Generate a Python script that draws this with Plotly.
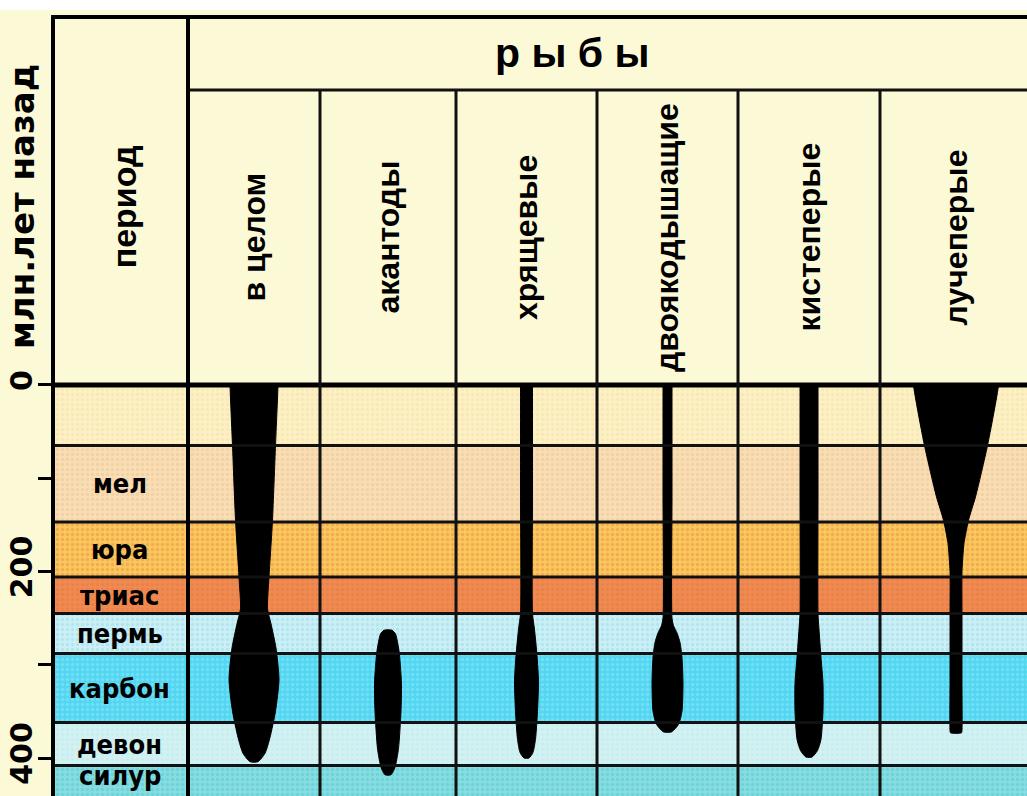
import plotly.graph_objects as go

# ---- geological periods (million years ago) ----
PERIOD_NAMES = ["", "мел", "юра", "триас", "пермь", "карбон", "девон", "силур"]
PERIOD_START = [0, 65, 147, 206, 245, 288, 362, 408]
PERIOD_END = [65, 147, 206, 245, 288, 362, 408, 443]
PERIOD_COLORS = ["#FDF0C4", "#F9DDB4", "#FAC65E", "#F08A50",
                 "#CBEFF5", "#52D6F1", "#D2F1F2", "#86DCE0"]
PERIOD_DOTS = ["#F2E2A8", "#EBC594", "#E8913E", "#E27A44",
               "#97DDEC", "#93E7F7", "#C0E9EC", "#52CAD2"]

# ---- fish groups: age (Ma) and relative diversity (width of the spindle) ----
GROUPS = ["в целом", "акантоды", "хрящевые", "двоякодышащие", "кистеперые", "лучеперые"]

AGES_TOTAL = [0, 65, 145, 206, 240, 256, 282, 316, 350, 378, 395, 404]
WIDTH_TOTAL = [48, 43, 37, 30, 27, 34, 44, 50, 43, 32, 22, 8]

AGES_ACANTH = [263, 267, 285, 320, 350, 390, 410, 418]
WIDTH_ACANTH = [8, 15, 22, 27, 26, 21, 14, 6]

AGES_CHOND = [0, 120, 245, 262, 290, 318, 350, 380, 394, 400]
WIDTH_CHOND = [12, 12, 12, 16, 21, 24, 22, 18, 13, 5]

AGES_DIPNOI = [0, 120, 250, 258, 266, 276, 292, 320, 350, 364, 372]
WIDTH_DIPNOI = [9, 9, 9, 12, 19, 25, 29, 31, 29, 22, 8]

AGES_CROSS = [0, 120, 245, 262, 292, 320, 350, 380, 392, 399]
WIDTH_CROSS = [18, 18, 18, 20, 24, 28, 28, 24, 17, 6]

AGES_ACTINO = [0, 65, 120, 145, 170, 200, 250, 320, 370, 373]
WIDTH_ACTINO = [85, 63, 39, 25, 16, 12, 12, 12, 12, 11]

SERIES = [
    (AGES_TOTAL, WIDTH_TOTAL),
    (AGES_ACANTH, WIDTH_ACANTH),
    (AGES_CHOND, WIDTH_CHOND),
    (AGES_DIPNOI, WIDTH_DIPNOI),
    (AGES_CROSS, WIDTH_CROSS),
    (AGES_ACTINO, WIDTH_ACTINO),
]

Y_TICKS = [0, 100, 200, 300, 400]
Y_TICK_TEXT = ["0", "", "200", "", "400"]

# ---- table geometry (horizontal units of the x axis) ----
X_LEFT, X_RIGHT = 55, 1027
PERIOD_COL_RIGHT = 188
COLUMN_EDGES = [188, 320, 456, 597, 738, 880, 1032]
Y_TOP, Y_BOTTOM = -394.6, 440.75       # axis range, header lives above 0
HEADER_SPLIT = -316.4                  # line under the "р ы б ы" row

CREAM = "#FCF9D7"
FONT = "Liberation Sans, Arial, sans-serif"
WIDE = "DejaVu Sans, Verdana, sans-serif"
NARROW = "DejaVu Sans Condensed, sans-serif"

fig = go.Figure()

# coloured period bands with a halftone texture
for name, start, end, col, dot in zip(PERIOD_NAMES, PERIOD_START, PERIOD_END,
                                      PERIOD_COLORS, PERIOD_DOTS):
    fig.add_trace(go.Bar(
        x=[(X_LEFT + 1100) / 2], y=[end - start], base=[start], width=[1100 - X_LEFT],
        marker=dict(color=col, line=dict(width=0),
                    pattern=dict(shape=".", fgcolor=dot, size=5, solidity=0.35,
                                 fillmode="overlay")),
        hoverinfo="skip", showlegend=False))

# spindle diagrams
for k, (ages, widths) in enumerate(SERIES):
    ages, widths = list(ages), list(widths)
    if ages[0] == 0:
        # carry the top edge up under the header so it ends squarely at 0
        ages = [-15] + ages
        widths = [widths[0]] + widths
    c = (COLUMN_EDGES[k] + COLUMN_EDGES[k + 1]) / 2
    xs = [c + w / 2 for w in widths] + [c - w / 2 for w in reversed(widths)]
    ys = ages + ages[::-1]
    xs.append(xs[0])
    ys.append(ys[0])
    fig.add_trace(go.Scatter(
        x=xs, y=ys, mode="lines", fill="toself", fillcolor="black",
        line=dict(color="black", width=1, shape="spline", smoothing=0.6),
        hoverinfo="skip", showlegend=False))

shapes = []
# header background (covers anything running above 0)
shapes.append(dict(type="rect", xref="x", yref="y", x0=X_LEFT - 5, x1=1100,
                   y0=Y_TOP - 5, y1=0, fillcolor=CREAM, line=dict(width=0),
                   layer="above"))
# period boundaries
for b in PERIOD_END[:-1]:
    shapes.append(dict(type="line", xref="x", yref="y", x0=X_LEFT, x1=1100, y0=b, y1=b,
                       line=dict(color="#111", width=3), layer="above"))
# header bottom
shapes.append(dict(type="line", xref="x", yref="y", x0=X_LEFT, x1=1100, y0=0, y1=0,
                   line=dict(color="black", width=5), layer="above"))
# header split row
shapes.append(dict(type="line", xref="x", yref="y", x0=PERIOD_COL_RIGHT, x1=1100,
                   y0=HEADER_SPLIT, y1=HEADER_SPLIT,
                   line=dict(color="#111", width=3), layer="above"))
# column separators
shapes.append(dict(type="line", xref="x", yref="paper", x0=PERIOD_COL_RIGHT,
                   x1=PERIOD_COL_RIGHT, y0=0, y1=1,
                   line=dict(color="black", width=4), layer="above"))
for xe in COLUMN_EDGES[1:-1]:
    shapes.append(dict(type="line", xref="x", yref="y", x0=xe, x1=xe,
                       y0=HEADER_SPLIT, y1=Y_BOTTOM + 5,
                       line=dict(color="#111", width=3), layer="above"))
# top border
shapes.append(dict(type="line", xref="paper", yref="paper", x0=-0.004, x1=1.01,
                   y0=1, y1=1, line=dict(color="black", width=4), layer="above"))
# white strip above the table
shapes.append(dict(type="rect", xref="paper", yref="paper", x0=-0.06, x1=1.01,
                   y0=(796 - 10) / 779, y1=1.03, fillcolor="white",
                   line=dict(width=0), layer="above"))

annotations = []
# period names
for name, start, end in zip(PERIOD_NAMES, PERIOD_START, PERIOD_END):
    if not name:
        continue
    yc = (start + end) / 2 if end < Y_BOTTOM else start + 11
    annotations.append(dict(x=(X_LEFT + PERIOD_COL_RIGHT) / 2 - 2, y=yc,
                            xref="x", yref="y", text=name, showarrow=False,
                            font=dict(family=NARROW, size=27, color="black",
                                      weight="bold")))
# group headers
for k, g in enumerate(GROUPS):
    c = (COLUMN_EDGES[k] + COLUMN_EDGES[k + 1]) / 2
    annotations.append(dict(x=c, y=HEADER_SPLIT / 2, xref="x", yref="y", text=g,
                            textangle=-90, showarrow=False,
                            xanchor="center", yanchor="middle",
                            font=dict(family=FONT, size=32, color="black",
                                      weight="bold")))
annotations.append(dict(x=(X_LEFT + PERIOD_COL_RIGHT) / 2 + 2, y=-191,
                        xref="x", yref="y", text="период", textangle=-90,
                        showarrow=False, xanchor="center", yanchor="middle",
                        font=dict(family=FONT, size=34, color="black", weight="bold")))
annotations.append(dict(x=572, y=(Y_TOP + HEADER_SPLIT) / 2, xref="x", yref="y",
                        text="р ы б ы", showarrow=False,
                        xanchor="center", yanchor="middle",
                        font=dict(family=FONT, size=41, color="black", weight="bold")))
annotations.append(dict(x=-33 / 972, y=(796 - 207) / 779, xref="paper", yref="paper",
                        text="млн.лет назад", textangle=-90, showarrow=False,
                        xanchor="center", yanchor="middle",
                        font=dict(family=WIDE, size=34, color="black", weight="bold")))

fig.update_layout(
    width=1027, height=796, autosize=False,
    margin=dict(l=55, r=0, t=17, b=0, pad=0),
    paper_bgcolor=CREAM, plot_bgcolor=CREAM,
    barmode="overlay", bargap=0, showlegend=False,
    shapes=shapes, annotations=annotations,
    xaxis=dict(range=[X_LEFT, X_RIGHT], visible=False, fixedrange=True),
    yaxis=dict(range=[Y_BOTTOM, Y_TOP], showgrid=False, zeroline=False,
               showline=True, linecolor="black", linewidth=4,
               ticks="outside", ticklen=13, tickwidth=3, tickcolor="black",
               tickvals=Y_TICKS, ticktext=Y_TICK_TEXT, tickangle=-90,
               ticklabelstandoff=-6,
               tickfont=dict(family=WIDE, size=30, color="black", weight="bold"),
               fixedrange=True),
)

fig.write_html("out.html")
